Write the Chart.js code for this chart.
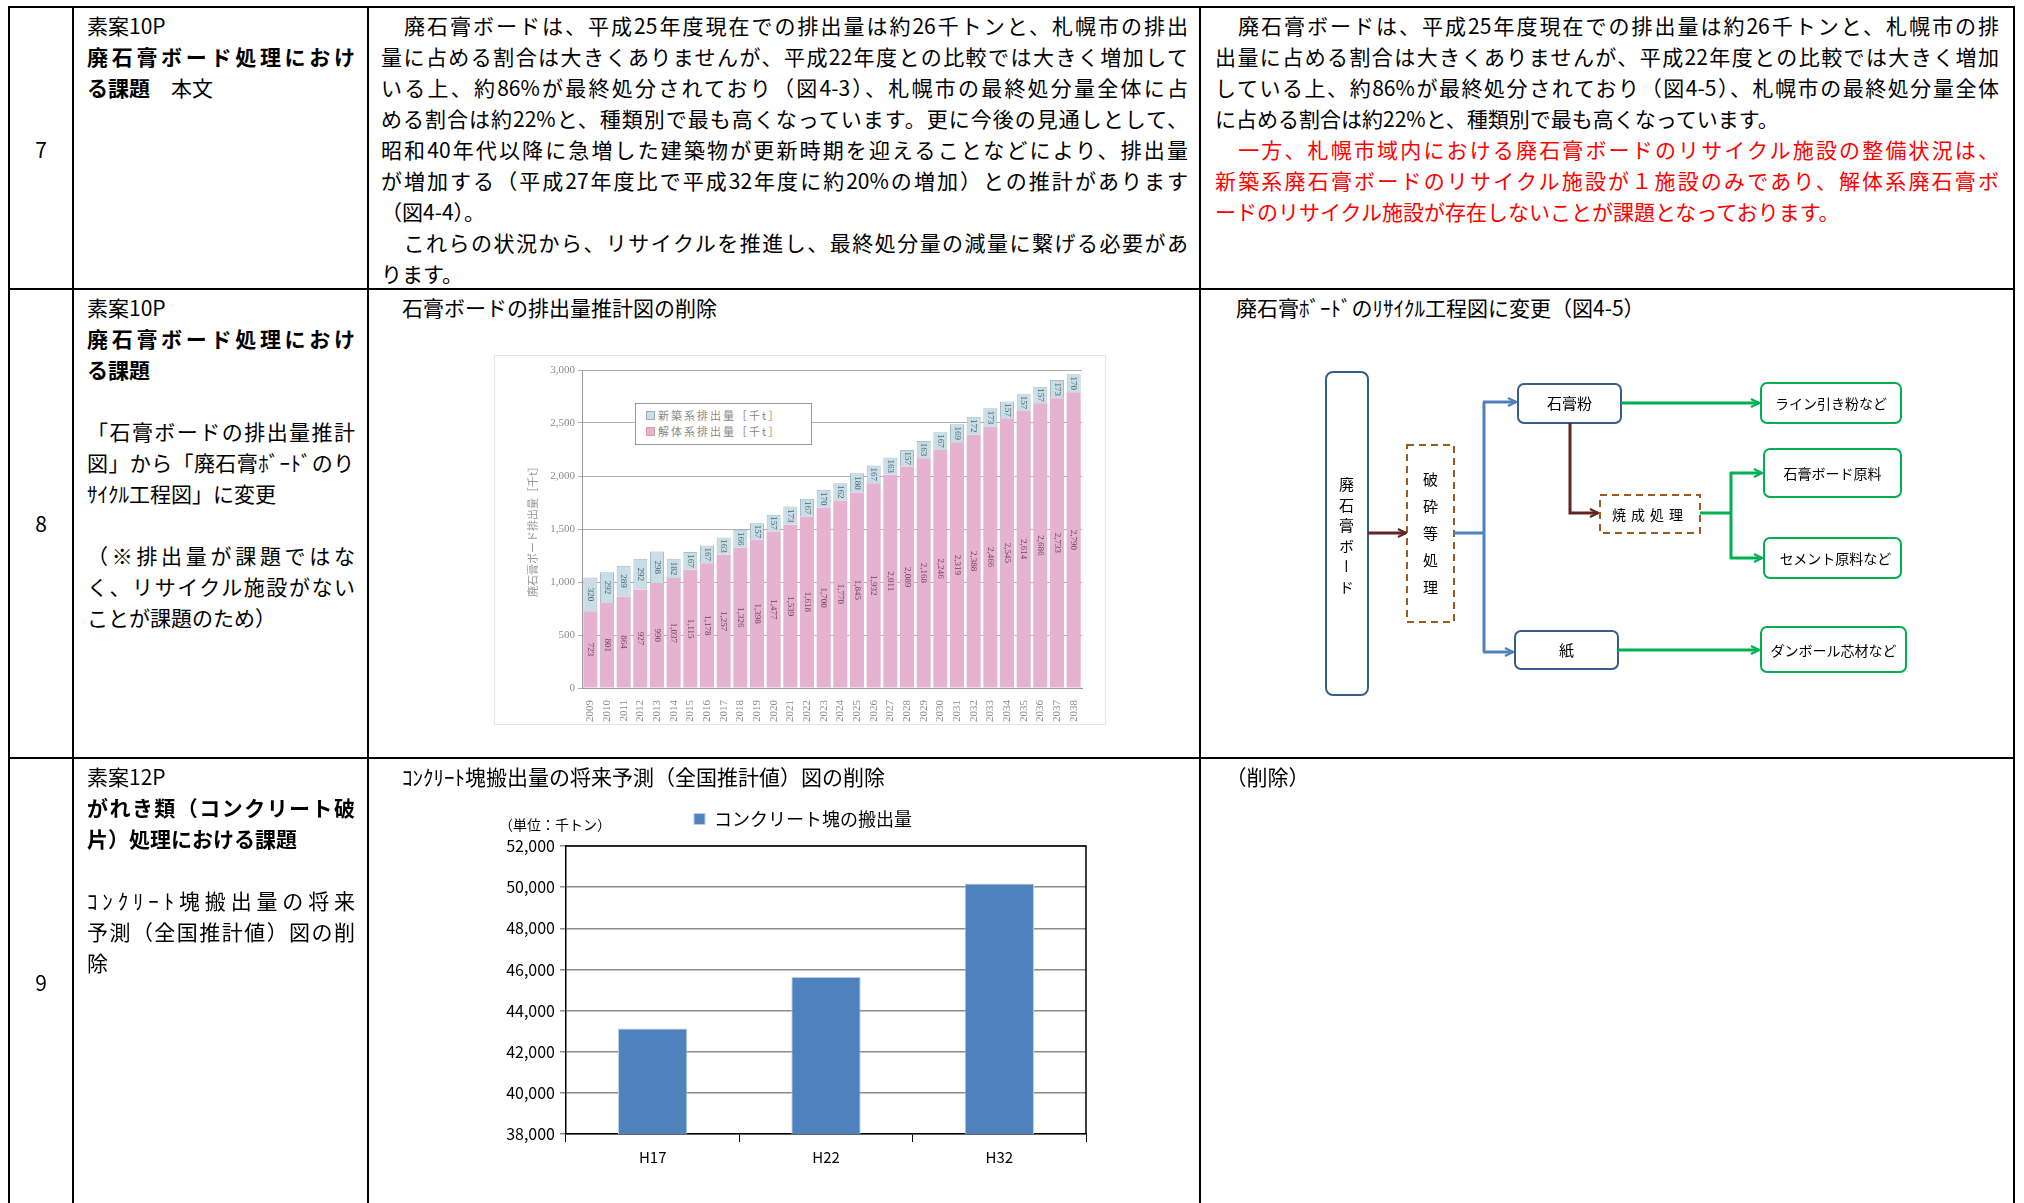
<!DOCTYPE html>
<html lang="ja">
<head>
<meta charset="utf-8">
<title>廃石膏ボード・がれき類 修正対照表</title>
<script src="https://cdn.jsdelivr.net/npm/chart.js@4.4.1/dist/chart.umd.min.js"></script>
<style>
  html, body { margin: 0; padding: 0; background: #fff; }
  body {
    width: 2024px; height: 1203px; position: relative; overflow: hidden;
    font-family: "Noto Sans CJK JP", "Noto Sans", sans-serif; color: #000;
  }
  .hl { position: absolute; height: 2px; background: #000; }
  .vl { position: absolute; width: 2px; background: #000; }
  .txt { position: absolute; font-size: 21px; line-height: 31px; }
  .txt div { height: 31px; }
  .j { text-align: justify; text-align-last: justify; }
  .red { color: #f00; }
  .num { position: absolute; width: 64px; left: 9px; text-align: center; font-size: 21px; line-height: 31px; }
  .frame { position: absolute; border: 1px solid #e6e6e6; }
  .legend1 {
    position: absolute; background: #fff; border: 1px solid #9a9a9a;
    font-size: 11px; line-height: 16px; color: #888; letter-spacing: 2px; padding: 3px 0 0 10px;
  }
  .legend1 i { display: inline-block; width: 7px; height: 7px; margin-right: 3px; border: 1px solid #9ab; vertical-align: 0; }
  .ftxt { position: absolute; font-size: 14px; line-height: 18px; text-align: center; white-space: nowrap; }
  .vert { position: absolute; writing-mode: vertical-rl; font-size: 15px; line-height: 15px; }
  canvas { position: absolute; }
</style>
</head>
<body>

<!-- table rules -->
<div class="hl" style="left:9px; top:6px; width:2006px"></div>
<div class="hl" style="left:9px; top:288px; width:2006px"></div>
<div class="hl" style="left:9px; top:757px; width:2006px"></div>
<div class="vl" style="left:8px; top:6px; height:1197px"></div>
<div class="vl" style="left:72px; top:6px; height:1197px"></div>
<div class="vl" style="left:367px; top:6px; height:1197px"></div>
<div class="vl" style="left:1199px; top:6px; height:1197px"></div>
<div class="vl" style="left:2013px; top:6px; height:1197px"></div>

<!-- row 7 -->
<div class="num" style="top:134px">7</div>
<div class="txt" style="left:87px; top:10px; width:268px">
  <div>素案10P</div>
  <div class="j"><b>廃石膏ボード処理におけ</b></div>
  <div><b>る課題</b>　本文</div>
</div>
<div class="txt" style="left:381px; top:10px; width:807px">
  <div class="j">　廃石膏ボードは、平成25年度現在での排出量は約26千トンと、札幌市の排出</div>
  <div class="j">量に占める割合は大きくありませんが、平成22年度との比較では大きく増加して</div>
  <div class="j">いる上、約86%が最終処分されており（図4-3）、札幌市の最終処分量全体に占</div>
  <div class="j">める割合は約22%と、種類別で最も高くなっています。更に今後の見通しとして、</div>
  <div class="j">昭和40年代以降に急増した建築物が更新時期を迎えることなどにより、排出量</div>
  <div class="j">が増加する（平成27年度比で平成32年度に約20%の増加）との推計があります</div>
  <div>（図4-4）。</div>
  <div class="j">　これらの状況から、リサイクルを推進し、最終処分量の減量に繋げる必要があ</div>
  <div>ります。</div>
</div>
<div class="txt" style="left:1215px; top:10px; width:784px">
  <div class="j">　廃石膏ボードは、平成25年度現在での排出量は約26千トンと、札幌市の排</div>
  <div class="j">出量に占める割合は大きくありませんが、平成22年度との比較では大きく増加</div>
  <div class="j">している上、約86%が最終処分されており（図4-5）、札幌市の最終処分量全体</div>
  <div>に占める割合は約22%と、種類別で最も高くなっています。</div>
  <div class="j red">　一方、札幌市域内における廃石膏ボードのリサイクル施設の整備状況は、</div>
  <div class="j red">新築系廃石膏ボードのリサイクル施設が１施設のみであり、解体系廃石膏ボ</div>
  <div class="red">ードのリサイクル施設が存在しないことが課題となっております。</div>
</div>

<!-- row 8 -->
<div class="num" style="top:508px">8</div>
<div class="txt" style="left:87px; top:292px; width:268px">
  <div>素案10P</div>
  <div class="j"><b>廃石膏ボード処理におけ</b></div>
  <div><b>る課題</b></div>
  <div></div>
  <div class="j">「石膏ボードの排出量推計</div>
  <div class="j">図」から「廃石膏ﾎﾞｰﾄﾞのり</div>
  <div>ｻｲｸﾙ工程図」に変更</div>
  <div></div>
  <div class="j">（※排出量が課題ではな</div>
  <div class="j">く、リサイクル施設がない</div>
  <div>ことが課題のため）</div>
</div>
<div class="txt" style="left:381px; top:292px"><div>　石膏ボードの排出量推計図の削除</div></div>
<div class="txt" style="left:1215px; top:292px"><div>　廃石膏ﾎﾞｰﾄﾞのﾘｻｲｸﾙ工程図に変更（図4-5）</div></div>

<!-- emission estimate chart (scanned figure) -->
<div class="frame" style="left:494px; top:355px; width:610px; height:368px"></div>
<canvas id="gypsumChart" width="600" height="380" style="left:500px; top:358px; filter:blur(0.5px)"></canvas>
<div class="legend1" style="left:635px; top:403px; width:165px; height:37px">
  <div><i style="background:#c8dde6"></i>新築系排出量［千t］</div>
  <div><i style="background:#e5b3cf; border-color:#d9a"></i>解体系排出量［千t］</div>
</div>

<!-- recycling flow (図4-5) -->
<svg width="2024" height="1203" style="position:absolute; left:0; top:0">
  <defs>
    <marker id="hBlue" viewBox="0 0 10 10" refX="9" refY="5" markerWidth="10" markerHeight="10" markerUnits="userSpaceOnUse" orient="auto">
      <path d="M1,1 L9,5 L1,9" fill="none" stroke="#4f81bd" stroke-width="2.2"/>
    </marker>
    <marker id="hGreen" viewBox="0 0 10 10" refX="9" refY="5" markerWidth="10" markerHeight="10" markerUnits="userSpaceOnUse" orient="auto">
      <path d="M1,1 L9,5 L1,9" fill="none" stroke="#00b050" stroke-width="2.2"/>
    </marker>
    <marker id="hRed" viewBox="0 0 10 10" refX="9" refY="5" markerWidth="10" markerHeight="10" markerUnits="userSpaceOnUse" orient="auto">
      <path d="M1,1 L9,5 L1,9" fill="none" stroke="#632523" stroke-width="2.2"/>
    </marker>
  </defs>
  <g fill="#fff" stroke-width="2">
    <rect x="1326" y="372" width="42" height="323" rx="7" stroke="#385d8a"/>
    <rect x="1407" y="445" width="47" height="177" stroke="#9c5b1e" stroke-dasharray="7 5"/>
    <rect x="1518" y="384" width="103" height="39" rx="6" stroke="#385d8a"/>
    <rect x="1515" y="631" width="103" height="38" rx="6" stroke="#385d8a"/>
    <rect x="1600" y="495" width="100" height="38" stroke="#9c5b1e" stroke-dasharray="7 5"/>
    <rect x="1761" y="383" width="140" height="40" rx="6" stroke="#00b050"/>
    <rect x="1764" y="449" width="137" height="48" rx="6" stroke="#00b050"/>
    <rect x="1764" y="538" width="137" height="40" rx="6" stroke="#00b050"/>
    <rect x="1761" y="627" width="145" height="45" rx="6" stroke="#00b050"/>
  </g>
  <g fill="none" stroke-width="3">
    <path d="M1368,533 H1406" stroke="#632523" marker-end="url(#hRed)"/>
    <path d="M1454,533 H1484 M1484,402 V652" stroke="#4f81bd"/>
    <path d="M1483,402 H1516" stroke="#4f81bd" marker-end="url(#hBlue)"/>
    <path d="M1483,652 H1513" stroke="#4f81bd" marker-end="url(#hBlue)"/>
    <path d="M1621,403 H1759" stroke="#00b050" marker-end="url(#hGreen)"/>
    <path d="M1570,423 V513 H1598" stroke="#632523" marker-end="url(#hRed)"/>
    <path d="M1700,513 H1731 M1731,472 V559" stroke="#00b050"/>
    <path d="M1730,473 H1762" stroke="#00b050" marker-end="url(#hGreen)"/>
    <path d="M1730,558 H1762" stroke="#00b050" marker-end="url(#hGreen)"/>
    <path d="M1618,650 H1759" stroke="#00b050" marker-end="url(#hGreen)"/>
  </g>
</svg>
<div class="vert" style="left:1339px; top:477px; letter-spacing:5.5px">廃石膏ボード</div>
<div class="vert" style="left:1423px; top:472px; letter-spacing:12px">破砕等処理</div>
<div class="ftxt" style="left:1518px; top:394px; width:103px; font-size:15px">石膏粉</div>
<div class="ftxt" style="left:1515px; top:641px; width:103px; font-size:15px">紙</div>
<div class="ftxt" style="left:1600px; top:505px; width:100px; letter-spacing:5px">焼成処理</div>
<div class="ftxt" style="left:1761px; top:394px; width:140px">ライン引き粉など</div>
<div class="ftxt" style="left:1764px; top:464px; width:137px">石膏ボード原料</div>
<div class="ftxt" style="left:1767px; top:549px; width:137px">セメント原料など</div>
<div class="ftxt" style="left:1761px; top:641px; width:145px">ダンボール芯材など</div>

<!-- row 9 -->
<div class="num" style="top:967px">9</div>
<div class="txt" style="left:87px; top:761px; width:268px">
  <div>素案12P</div>
  <div class="j"><b>がれき類（コンクリート破</b></div>
  <div><b>片）処理における課題</b></div>
  <div></div>
  <div class="j">ｺﾝｸﾘｰﾄ塊搬出量の将来</div>
  <div class="j">予測（全国推計値）図の削</div>
  <div>除</div>
</div>
<div class="txt" style="left:381px; top:761px"><div>　ｺﾝｸﾘｰﾄ塊搬出量の将来予測（全国推計値）図の削除</div></div>
<div class="txt" style="left:1215px; top:761px"><div>　（削除）</div></div>

<div style="position:absolute; left:499px; top:815px; font-size:14px; line-height:18px">（単位：千トン）</div>
<canvas id="concreteChart" width="610" height="372" style="left:490px; top:800px"></canvas>

<script>
// 石膏ボードの排出量推計 (千t)
const years = ['2009', '2010', '2011', '2012', '2013', '2014', '2015', '2016', '2017', '2018',
  '2019', '2020', '2021', '2022', '2023', '2024', '2025', '2026', '2027', '2028',
  '2029', '2030', '2031', '2032', '2033', '2034', '2035', '2036', '2037', '2038'];
const demolitionTons = [723, 801, 864, 927, 990, 1037, 1115, 1178, 1257, 1326,
  1398, 1477, 1539, 1618, 1700, 1770, 1845, 1932, 2011, 2089,
  2168, 2246, 2319, 2388, 2466, 2545, 2614, 2686, 2733, 2790];
const newBuildTons = [320, 292, 289, 292, 298, 182, 167, 167, 163, 166,
  157, 157, 173, 167, 170, 162, 180, 167, 163, 157,
  163, 167, 169, 172, 173, 157, 157, 157, 173, 170];
const gypsumTicks = [0, 500, 1000, 1500, 2000, 2500, 3000];

// コンクリート塊の搬出量 (千トン)
const periods = ['H17', 'H22', 'H32'];
const concreteTons = [43130, 45630, 50180];

// vertical value labels in the middle of every bar segment
const segmentLabels = {
  id: 'segmentLabels',
  afterDatasetsDraw(chart) {
    const ctx = chart.ctx;
    chart.data.datasets.forEach((ds, i) => {
      const meta = chart.getDatasetMeta(i);
      meta.data.forEach((bar, j) => {
        ctx.save();
        ctx.translate(bar.x, (bar.y + bar.base) / 2);
        ctx.rotate(Math.PI / 2);
        ctx.font = '9px "Liberation Serif"';
        ctx.fillStyle = ds.labelColor;
        ctx.textAlign = 'center';
        ctx.textBaseline = 'middle';
        ctx.fillText(ds.data[j].toLocaleString(), 0, 0);
        ctx.restore();
      });
    });
  }
};

// black box on top and right of the plot, like the spreadsheet chart
const plotFrame = {
  id: 'plotFrame',
  afterDraw(chart) {
    const { ctx, chartArea: a } = chart;
    ctx.save();
    ctx.strokeStyle = '#000';
    ctx.lineWidth = 1.5;
    ctx.beginPath();
    ctx.moveTo(a.left, a.top);
    ctx.lineTo(a.right, a.top);
    ctx.lineTo(a.right, a.bottom);
    ctx.stroke();
    ctx.restore();
  }
};

// legend sits a bit right of centre, with some room below it
const legendPlace = {
  id: 'legendPlace',
  beforeInit(chart) {
    const lg = chart.legend;
    const fit = lg.fit;
    const draw = lg.draw;
    lg.fit = function () {
      fit.call(this);
      this.height += 8;
    };
    lg.draw = function () {
      this.ctx.save();
      this.ctx.translate(15, 0);
      draw.call(this);
      this.ctx.restore();
    };
  }
};

new Chart(document.getElementById('gypsumChart'), {
  type: 'bar',
  data: {
    labels: years,
    datasets: [{
      label: '解体系排出量［千t］',
      data: demolitionTons,
      backgroundColor: '#e5b3cf',
      labelColor: '#6e3f5d',
      barPercentage: 0.84,
      categoryPercentage: 1
    }, {
      label: '新築系排出量［千t］',
      data: newBuildTons,
      backgroundColor: '#c8dde6',
      borderColor: '#a3bfcb',
      borderWidth: 1,
      labelColor: '#46666f',
      barPercentage: 0.84,
      categoryPercentage: 1
    }]
  },
  options: {
    responsive: false,
    animation: false,
    devicePixelRatio: 1,
    layout: { padding: { top: 12, right: 18, bottom: 0, left: 24 } },
    plugins: { legend: { display: false }, tooltip: { enabled: false } },
    scales: {
      x: {
        stacked: true,
        grid: { display: false },
        border: { color: '#9a9a9a' },
        ticks: {
          autoSkip: false, minRotation: 90, maxRotation: 90, padding: 4,
          color: '#8a8a8a', font: { family: 'Liberation Serif', size: 11 }
        },
        afterFit: s => { s.height = 50; }
      },
      y: {
        stacked: true,
        min: 0, max: 3000,
        afterBuildTicks: s => { s.ticks = gypsumTicks.map(v => ({ value: v })); },
        grid: { color: '#b0b0b0', tickLength: 4 },
        border: { color: '#9a9a9a' },
        ticks: {
          padding: 3, color: '#8a8a8a',
          font: { family: 'Liberation Serif', size: 11 },
          callback: v => v.toLocaleString()
        },
        title: {
          display: true, text: '廃石膏ボード排出量［千t］', color: '#999',
          font: { family: 'Noto Sans CJK JP', size: 11 }, padding: 2
        },
        afterFit: s => { s.width = 58; }
      }
    }
  },
  plugins: [segmentLabels]
});

new Chart(document.getElementById('concreteChart'), {
  type: 'bar',
  data: {
    labels: periods,
    datasets: [{
      label: 'コンクリート塊の搬出量',
      data: concreteTons,
      backgroundColor: '#4f81bd',
      borderColor: '#bccde4',
      borderWidth: 1,
      barPercentage: 0.4,
      categoryPercentage: 1
    }]
  },
  options: {
    responsive: false,
    animation: false,
    devicePixelRatio: 1,
    layout: { padding: { top: 0, right: 14, bottom: 0, left: 0 } },
    plugins: {
      legend: {
        display: true,
        labels: {
          color: '#000', boxWidth: 11, boxHeight: 11, padding: 10,
          font: { family: 'Noto Sans CJK JP', size: 18 }
        }
      },
      tooltip: { enabled: false }
    },
    scales: {
      x: {
        offset: true,
        grid: { display: true, drawOnChartArea: false, offset: true, tickLength: 8, color: '#000' },
        border: { color: '#000', width: 1.5 },
        ticks: { color: '#000', padding: 6, font: { family: 'Noto Sans CJK JP', size: 15 } }
      },
      y: {
        min: 38000, max: 52000,
        ticks: {
          stepSize: 2000, color: '#000', padding: 5,
          font: { family: 'Noto Sans CJK JP', size: 16 },
          callback: v => v.toLocaleString()
        },
        grid: { color: '#8c8c8c', lineWidth: 1.5, tickLength: 6 },
        border: { color: '#000', width: 1.5 },
        afterFit: s => { s.width = 76; }
      }
    }
  },
  plugins: [plotFrame, legendPlace]
});
</script>
</body>
</html>
